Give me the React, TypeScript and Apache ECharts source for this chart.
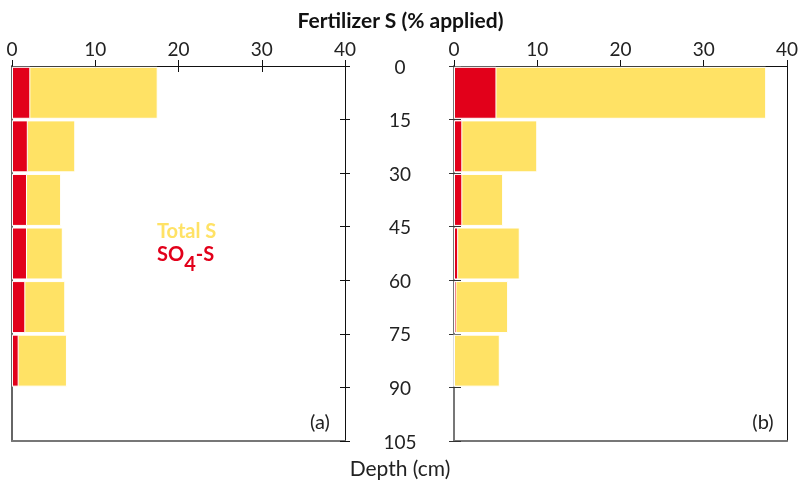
import React, { useEffect, useRef } from "react";
import * as echarts from "echarts";

const depthBands = ["0-15", "15-30", "30-45", "45-60", "60-75", "75-90", "90-105"];
const leftTotalS = [17.5, 7.6, 5.9, 6.1, 6.4, 6.6, null];
const leftSO4S = [2.2, 1.9, 1.8, 1.8, 1.6, 0.8, null];
const rightTotalS = [37.5, 10.0, 5.9, 7.9, 6.5, 5.5, null];
const rightSO4S = [5.1, 1.0, 1.0, 0.5, 0.3, 0, null];

const YELLOW = "#FFE265";
const RED = "#E2001A";
const FONT = "Lato, 'Open Sans', sans-serif";

export default function App() {
  const ref = useRef<HTMLDivElement>(null);
  useEffect(() => {
    if (!ref.current) return;
    const chart = echarts.init(ref.current, undefined, { renderer: "svg" });
    const grids = [
      { left: 12, top: 66, width: 333, height: 375 },
      { left: 454, top: 66, width: 334, height: 375 },
    ];
    const xAxes: any[] = [];
    const yAxes: any[] = [];
    for (let g = 0; g < 2; g++) {
      xAxes.push({
        gridIndex: g, type: "value", position: "top", min: 0, max: 40, interval: 10,
        axisLine: { show: true, onZero: false, lineStyle: { color: "#111", width: 1 } },
        axisTick: { show: true, inside: false, length: 6, lineStyle: { color: "#111" } },
        axisLabel: { show: true, fontSize: 19, color: "#222", margin: 8, fontFamily: FONT },
        splitLine: { show: false },
      });
      xAxes.push({
        gridIndex: g, type: "value", position: "top", min: 0, max: 40, interval: 10,
        axisLine: { show: false, onZero: false },
        axisTick: { show: true, inside: true, length: 6, lineStyle: { color: "#111" } },
        axisLabel: { show: false }, splitLine: { show: false },
      });
      xAxes.push({
        gridIndex: g, type: "value", position: "bottom", min: 0, max: 40,
        axisLine: { show: true, onZero: false, lineStyle: { color: "#777", width: 2 } },
        axisTick: { show: false }, axisLabel: { show: false }, splitLine: { show: false },
      });
    }
    // grid 0
    yAxes.push({
      gridIndex: 0, type: "category", data: depthBands, inverse: true, position: "left",
      axisLine: { show: true, onZero: false, lineStyle: { color: "#666", width: 2 } },
      axisTick: { show: false }, axisLabel: { show: false },
    });
    yAxes.push({
      gridIndex: 0, type: "value", inverse: true, min: 0, max: 105, interval: 15, position: "right",
      axisLine: { show: true, onZero: false, lineStyle: { color: "#111", width: 1 } },
      axisTick: { show: true, inside: false, length: 5, lineStyle: { color: "#111" } },
      axisLabel: { show: true, fontSize: 19, color: "#222", margin: 55, align: "center", fontFamily: FONT },
      splitLine: { show: false },
    });
    yAxes.push({
      gridIndex: 0, type: "value", inverse: true, min: 0, max: 105, interval: 15, position: "right",
      axisLine: { show: false, onZero: false },
      axisTick: { show: true, inside: true, length: 5, lineStyle: { color: "#111" } },
      axisLabel: { show: false }, splitLine: { show: false },
    });
    // grid 1
    yAxes.push({
      gridIndex: 1, type: "category", data: depthBands, inverse: true, position: "right",
      axisLine: { show: true, onZero: false, lineStyle: { color: "#111", width: 1 } },
      axisTick: { show: false }, axisLabel: { show: false },
    });
    yAxes.push({
      gridIndex: 1, type: "value", inverse: true, min: 0, max: 105, interval: 15, position: "left",
      axisLine: { show: true, onZero: false, lineStyle: { color: "#777", width: 2 } },
      axisTick: { show: true, inside: false, length: 5, lineStyle: { color: "#333" } },
      axisLabel: { show: false }, splitLine: { show: false },
    });
    yAxes.push({
      gridIndex: 1, type: "value", inverse: true, min: 0, max: 105, interval: 15, position: "left",
      axisLine: { show: false, onZero: false },
      axisTick: { show: true, inside: true, length: 7, lineStyle: { color: "#333" } },
      axisLabel: { show: false }, splitLine: { show: false },
    });

    const barStyle = (color: string) => ({ color, borderColor: "#fff", borderWidth: 1 });
    const mkBar = (data: any[], color: string, xi: number, yi: number) => ({
      type: "bar", data, xAxisIndex: xi, yAxisIndex: yi, barWidth: "97%", barGap: "-100%",
      itemStyle: barStyle(color), silent: true,
    });

    chart.setOption({
      animation: false,
      textStyle: { fontFamily: FONT },
      title: {
        text: "Fertilizer S (% applied)", left: "center", top: 4,
        textStyle: { fontSize: 21, fontWeight: "bold", color: "#111", fontFamily: FONT },
      },
      grid: grids,
      xAxis: xAxes,
      yAxis: yAxes,
      series: [
        mkBar(leftTotalS, YELLOW, 0, 0),
        mkBar(leftSO4S, RED, 0, 0),
        mkBar(rightTotalS, YELLOW, 3, 3),
        mkBar(rightSO4S, RED, 3, 3),
      ],
      graphic: [
        { type: "text", x: 400, y: 467, style: { text: "Depth (cm)", fontSize: 21, fill: "#222", align: "center", verticalAlign: "middle", fontFamily: FONT } },
        { type: "text", x: 320, y: 421, style: { text: "(a)", fontSize: 20, fill: "#222", align: "center", verticalAlign: "middle", fontFamily: FONT } },
        { type: "text", x: 763, y: 421, style: { text: "(b)", fontSize: 20, fill: "#222", align: "center", verticalAlign: "middle", fontFamily: FONT } },
        { type: "text", x: 157, y: 230, style: { text: "Total S", fontSize: 20, fontWeight: "bold", fill: YELLOW, verticalAlign: "middle", fontFamily: FONT } },
        {
          type: "text", x: 157, y: 258,
          style: {
            text: "{a|SO}{b|4}{a|-S}", verticalAlign: "middle", fontFamily: FONT,
            rich: {
              a: { fontSize: 20, fontWeight: "bold", fill: RED, fontFamily: FONT, verticalAlign: "top" },
              b: { fontSize: 20, fontWeight: "bold", fill: RED, fontFamily: FONT, padding: [10, 0, 0, 0] },
            },
          },
        },
      ],
    });
    return () => chart.dispose();
  }, []);
  return <div ref={ref} style={{ position: "fixed", left: 0, top: 0, width: 801, height: 483 }} />;
}
